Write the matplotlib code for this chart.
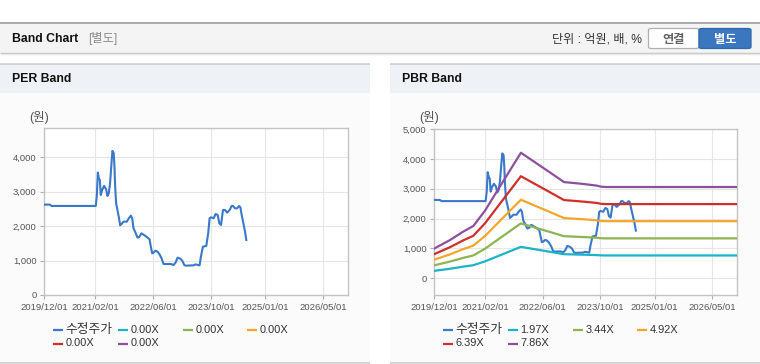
import matplotlib
matplotlib.use('Agg')
import matplotlib.pyplot as plt
from matplotlib.patches import Rectangle, FancyBboxPatch
from matplotlib.lines import Line2D
from matplotlib.ticker import FuncFormatter, FixedLocator
import numpy as np
import pandas as pd

plt.rcParams['font.family'] = ['Liberation Sans', 'Noto Sans CJK KR', 'DejaVu Sans']

# ---------------- data ----------------
price_dates = [
    '2019-12-01', '2020-01-17', '2020-01-31', '2021-02-06', '2021-02-15', '2021-02-23',
    '2021-03-04', '2021-03-12', '2021-03-20', '2021-03-31', '2021-04-17', '2021-05-04',
    '2021-05-15', '2021-05-26', '2021-06-06', '2021-06-18', '2021-06-26', '2021-07-07',
    '2021-07-13', '2021-07-19', '2021-07-27', '2021-08-07', '2021-08-18', '2021-08-30',
    '2021-09-10', '2021-09-27', '2021-10-25', '2021-11-11', '2021-11-28', '2021-12-09',
    '2021-12-20', '2022-01-06', '2022-01-23', '2022-02-09', '2022-02-25', '2022-03-14',
    '2022-03-31', '2022-04-17', '2022-05-04', '2022-05-15', '2022-05-26', '2022-06-07',
    '2022-06-23', '2022-07-10', '2022-07-27', '2022-08-13', '2022-08-30', '2022-10-31',
    '2022-11-22', '2022-12-09', '2022-12-26', '2023-01-17', '2023-02-03', '2023-02-20',
    '2023-03-03', '2023-05-10', '2023-05-26', '2023-06-12', '2023-06-29', '2023-07-10',
    '2023-07-27', '2023-08-24', '2023-09-10', '2023-09-21', '2023-10-03', '2023-10-25',
    '2023-11-11', '2023-11-28', '2023-12-12', '2023-12-26', '2024-01-12', '2024-01-29',
    '2024-02-15', '2024-03-08', '2024-03-25', '2024-04-05', '2024-04-22', '2024-05-09',
    '2024-05-26', '2024-06-06', '2024-06-17', '2024-07-04', '2024-07-15', '2024-07-26',
]
price_values = [
    2625, 2625, 2586, 2586, 2905, 3555,
    3390, 3340, 2905, 3050, 3167, 3070,
    2877, 2950, 3245, 3826, 4184, 4120,
    3729, 3148, 2663, 2470, 2276, 2024,
    2060, 2130, 2130, 2228, 2305, 2228,
    1937, 1811, 1666, 1695, 1792, 1753,
    1714, 1666, 1617, 1404, 1210, 1230,
    1288, 1259, 1181, 1065, 900, 900,
    872, 940, 1085, 1056, 998, 872,
    852, 862, 891, 872, 862, 1114,
    1404, 1423, 1811, 2228, 2257, 2228,
    2353, 2324, 2082, 2034, 2470, 2470,
    2392, 2470, 2586, 2586, 2518, 2518,
    2586, 2547, 2324, 2034, 1840, 1598,
]

# book value per share (원) underlying the PBR bands
bps_dates = [
    '2019-12-01', '2020-04-11', '2020-08-01', '2020-10-25', '2021-01-31', '2021-05-10',
    '2021-11-30', '2022-08-02', '2022-10-25', '2022-11-28', '2023-01-31', '2023-05-10',
    '2023-08-30', '2023-10-11', '2023-11-22', '2026-11-28',
]
bps_values = [
    127, 163, 199, 223, 288, 369,
    535, 451, 422, 410, 407, 402,
    395, 390, 389, 389,
]

per_multiples = [0.00, 0.00, 0.00, 0.00, 0.00]
pbr_multiples = [1.97, 3.44, 4.92, 6.39, 7.86]

price_label = '수정주가'
xtick_dates = ['2019-12-01', '2021-02-01', '2022-06-01', '2023-10-01', '2025-01-01', '2026-05-01']
xtick_labels = ['2019/12/01', '2021/02/01', '2022/06/01', '2023/10/01', '2025/01/01', '2026/05/01']
x_start, x_end = '2019-12-01', '2026-11-28'

price_color = '#3a78c9'
band_colors = ['#1cb3c6', '#8cb452', '#f4a62a', '#cf2f2a', '#8e509d']

# ---------------- layout helpers ----------------
W, H = 760, 364
fig = plt.figure(figsize=(W / 100, H / 100), dpi=100)
fig.patch.set_facecolor('white')


def fx(x):
    return x / W


def fy(y):
    return 1 - y / H


def rect(x0, y0, x1, y1, color, z=0):
    fig.add_artist(Rectangle((fx(x0), fy(y1)), (x1 - x0) / W, (y1 - y0) / H,
                             transform=fig.transFigure, facecolor=color,
                             edgecolor='none', zorder=z))


def hline(y, x0, x1, color, lw, z=1):
    fig.add_artist(Line2D([fx(x0), fx(x1)], [fy(y), fy(y)], transform=fig.transFigure,
                          color=color, lw=lw, zorder=z, solid_capstyle='butt'))


# top header
rect(0, 22, 760, 53, '#f4f4f4')
hline(22.5, 0, 760, '#aaaaaa', 1.4)
hline(52.8, 0, 760, '#c4c4c4', 1.0)
hline(54.0, 0, 760, '#e8e8e8', 1.0)
fig.text(fx(12), fy(38.5), 'Band Chart', fontsize=8.8, weight='bold', color='#111111',
         va='center', ha='left')
fig.text(fx(88), fy(38.5), '[별도]', fontsize=8.8, color='#8a8a8a', va='center', ha='left')
fig.text(fx(642), fy(39), '단위 : 억원, 배, %', fontsize=8.7, color='#333333',
         va='center', ha='right')

# buttons
fig.add_artist(FancyBboxPatch((fx(648.5), fy(48.5)), (699 - 648.5) / W, (48.5 - 28.5) / H,
                              boxstyle='round,pad=0,rounding_size=0.004',
                              transform=fig.transFigure, facecolor='white',
                              edgecolor='#b0b0b0', lw=0.9, zorder=2))
fig.add_artist(FancyBboxPatch((fx(699), fy(48.5)), (751 - 699) / W, (48.5 - 28.5) / H,
                              boxstyle='round,pad=0,rounding_size=0.004',
                              transform=fig.transFigure, facecolor='#3a77bf',
                              edgecolor='#2f67ab', lw=0.9, zorder=2))
fig.text(fx(673.7), fy(39.5), '연결', fontsize=8.8, weight='bold', color='#666666',
         va='center', ha='center', zorder=3)
fig.text(fx(725), fy(39.5), '별도', fontsize=8.8, weight='bold', color='white',
         va='center', ha='center', zorder=3)

# panels
for (px0, px1, title) in [(0, 370, 'PER Band'), (390, 760, 'PBR Band')]:
    rect(px0, 64, px1, 93, '#eef2f7')
    hline(64.3, px0, px1, '#cfcfcf', 1.2)
    rect(px0, 93, px1, 362, '#fbfbfb')
    hline(362.6, px0, px1, '#d4d4d4', 1.5)
    fig.text(fx(px0 + 12), fy(79), title, fontsize=8.8, weight='bold', color='#111111',
             va='center', ha='left')

# ---------------- axes ----------------
pd_price_dates = pd.to_datetime(price_dates)
pd_bps_dates = pd.to_datetime(bps_dates)
pd_xticks = pd.to_datetime(xtick_dates)


def style_axes(ax, ylim, yticks):
    ax.set_facecolor('white')
    ax.set_xlim(pd.Timestamp(x_start), pd.Timestamp(x_end))
    ax.set_ylim(*ylim)
    ax.xaxis.set_major_locator(FixedLocator([matplotlib.dates.date2num(d) for d in pd_xticks]))
    ax.set_xticklabels(xtick_labels)
    ax.set_yticks(yticks)
    ax.yaxis.set_major_formatter(FuncFormatter(lambda v, p: f'{int(v):,}'))
    ax.grid(True, color='#e6e6e6', lw=0.8, zorder=0)
    ax.set_axisbelow(True)
    for s in ax.spines.values():
        s.set_color('#c4c4c4')
        s.set_linewidth(1.0)
    ax.tick_params(axis='both', labelsize=6.8, colors='#555555', length=3, width=0.8,
                   pad=2.5)
    ax.tick_params(axis='both', color='#b0b0b0')


def draw_legend(x0, labels, colors):
    offs = [0, 65, 130, 194]
    rows = [330, 343.5]
    for i, (lab, col) in enumerate(zip(labels, colors)):
        r, c = divmod(i, 4)
        x = x0 + offs[c]
        y = rows[r]
        fig.add_artist(Line2D([fx(x), fx(x + 10)], [fy(y), fy(y)], transform=fig.transFigure,
                              color=col, lw=1.6, solid_capstyle='butt'))
        is_korean = any(ord(ch) > 0x3000 for ch in lab)
        fig.text(fx(x + 12.5), fy(y + (0.5 if is_korean else 0)), lab,
                 fontsize=(9.2 if is_korean else 7.9), color='#333333',
                 va='center', ha='left')


# PER
ax1 = fig.add_axes([fx(44.3), fy(295), (348 - 44.3) / W, (295 - 128) / H])
style_axes(ax1, (0, 4850), [0, 1000, 2000, 3000, 4000])
ax1.plot(pd_price_dates, price_values, color=price_color, lw=1.5, zorder=3)
fig.text(fx(29), fy(118), '(원)', fontsize=9, color='#555555', va='center', ha='left')
draw_legend(53, [price_label] + [f'{m:.2f}X' for m in per_multiples],
            [price_color] + band_colors)

# PBR
ax2 = fig.add_axes([fx(434.3), fy(295), (737.3 - 434.3) / W, (295 - 129) / H])
style_axes(ax2, (-558, 5000), [0, 1000, 2000, 3000, 4000, 5000])
ax2.plot(pd_price_dates, price_values, color=price_color, lw=1.5, zorder=3)
bps_arr = np.array(bps_values, dtype=float)
for m, col in zip(pbr_multiples, band_colors):
    ax2.plot(pd_bps_dates, bps_arr * m, color=col, lw=1.6, zorder=4)
fig.text(fx(419), fy(117), '(원)', fontsize=9, color='#555555', va='center', ha='left')
draw_legend(443, [price_label] + [f'{m:.2f}X' for m in pbr_multiples],
            [price_color] + band_colors)

fig.savefig('out.png', dpi=100, facecolor='white')
